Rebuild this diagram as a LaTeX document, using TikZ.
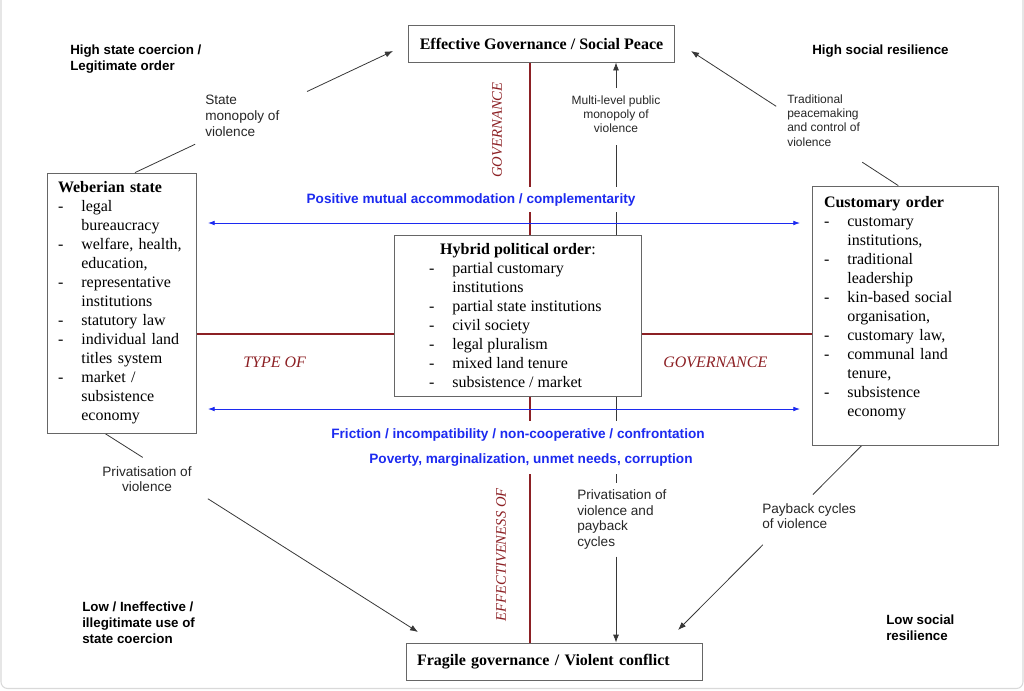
\documentclass[tikz,border=0pt]{standalone}
\usepackage{fontspec}
\setmainfont{Liberation Serif}
\setsansfont{Liberation Sans}
\usetikzlibrary{arrows.meta,calc}
\definecolor{dred}{RGB}{140,32,36}
\definecolor{bblue}{RGB}{28,42,240}
\definecolor{cgrey}{RGB}{55,55,55}
\newcommand\bl{\makebox[17.5pt][l]{-}}
\newcommand\ct{\hspace*{17.5pt}}
\pgfdeclarelayer{background}
\pgfsetlayers{background,main}
\begin{document}
\begin{tikzpicture}[x=0.75pt,y=-0.75pt,
  box/.style={draw=black!60, line width=0.6pt, fill=white, font=\fontsize{12}{14.25}\selectfont},
  lbl/.style={font=\sffamily\fontsize{10.2}{12}\selectfont, inner sep=0pt, text=black!85},
  lbls/.style={font=\sffamily\fontsize{9}{10.7}\selectfont, inner sep=0pt, text=black!85},
  corner/.style={font=\sffamily\bfseries\fontsize{10}{12}\selectfont, inner sep=0pt, align=left},
  btxt/.style={font=\sffamily\bfseries\fontsize{10.2}{12}\selectfont, text=bblue, fill=white, inner xsep=2pt},
  rtxt/.style={font=\itshape\fontsize{12}{14}\selectfont, text=dred, inner sep=0pt},
  rvtxt/.style={font=\itshape\fontsize{11}{13}\selectfont, text=dred, inner sep=0pt, rotate=90},
  conn/.style={draw=cgrey, line width=0.6pt},
  arr/.style={-{Latex[length=6pt,width=4.5pt]}},
  redl/.style={draw=dred, line width=1.4pt},
  barr/.style={draw=bblue, line width=0.6pt, {Latex[length=5pt,width=3.5pt]}-{Latex[length=5pt,width=3.5pt]}}
]
\useasboundingbox (0,0) rectangle (1024,690);

% boxes
\node[box, font=\bfseries\fontsize{12}{14.25}\selectfont, inner xsep=8.25pt, minimum height=27.75pt] (top) at (541.5,43.5) {Effective Governance / Social Peace};
\node[box, font=\bfseries\fontsize{12}{14.25}\selectfont, text width=205.5pt, align=left, inner xsep=8.25pt, minimum height=27.75pt] (bot) at (554,661.5) {Fragile governance / Violent conflict};

\node[box, text width=95.25pt, align=left, inner xsep=8.25pt, inner ysep=2pt, minimum height=195pt] (weber) at (121.5,303) {\textbf{Weberian state}\\
\bl legal\\
\ct bureaucracy\\
\bl welfare, health,\\
\ct education,\\
\bl representative\\
\ct institutions\\
\bl statutory law\\
\bl individual land\\
\ct titles system\\
\bl market /\\
\ct subsistence\\
\ct economy};

\node[box, text width=121.5pt, align=left, inner xsep=9pt, inner ysep=2pt, minimum height=194.25pt] (cust) at (905,315.5) {\textbf{Customary order}\\
\bl customary\\
\ct institutions,\\
\bl traditional\\
\ct leadership\\
\bl kin-based social\\
\ct organisation,\\
\bl customary law,\\
\bl communal land\\
\ct tenure,\\
\bl subsistence\\
\ct economy\\
\mbox{}};

\node[box, align=left, inner sep=2pt, minimum width=185.25pt, minimum height=120.75pt] (hyb) at (518,315.5) {\makebox[133.5pt][c]{\textbf{Hybrid political order}:}\\
\bl partial customary\\
\ct institutions\\
\bl partial state institutions\\
\bl civil society\\
\bl legal pluralism\\
\bl mixed land tenure\\
\bl subsistence / market};

% corner labels
\node[corner, anchor=west] (hl) at (70,59) {High state coercion /\\Legitimate order};
\node[corner, anchor=west] (hr) at (812,51) {High social resilience};
\node[corner, anchor=west] (ll) at (82,623) {Low / Ineffective /\\illegitimate use of\\state coercion};
\node[corner, anchor=west] (lr) at (886,627.5) {Low social\\resilience};

% connector labels
\node[lbl, align=left, anchor=west] (lblA) at (205,116) {State\\monopoly of\\violence};
\node[lbls, align=left, anchor=west] (lblB) at (787,120.5) {Traditional\\peacemaking\\and control of\\violence};
\node[lbl, align=center, font=\sffamily\fontsize{10.2}{11.25}\selectfont] (lblC) at (147,479.5) {Privatisation of\\violence};
\node[lbl, align=left, anchor=west, font=\sffamily\fontsize{10.2}{11.25}\selectfont] (lblD) at (762,516.5) {Payback cycles\\of violence};
\node[lbls, align=center] (lblM) at (616,114) {Multi-level public\\monopoly of\\violence};
\node[lbl, align=left, anchor=west, font=\sffamily\fontsize{10.2}{11.8}\selectfont] (lblP) at (577,519.5) {Privatisation of\\violence and\\payback\\cycles};

% red axis labels
\node[rtxt, anchor=west] (typeof) at (243,362) {TYPE OF};
\node[rtxt, anchor=west] (govh) at (663,362) {GOVERNANCE};
\node[rvtxt] (govv) at (497,130) {GOVERNANCE};
\node[rvtxt] (eff) at (501,555) {EFFECTIVENESS OF};

% blue labels
\node[btxt, inner ysep=4.5pt] (pos) at (471,199.5) {Positive mutual accommodation / complementarity};
\node[btxt, inner ysep=5.5pt] (fric) at (518,435) {Friction / incompatibility / non-cooperative / confrontation};
\node[btxt, inner ysep=5.5pt] (pov) at (531,460) {Poverty, marginalization, unmet needs, corruption};

% coordinates
\coordinate (hc) at (530,334);
\coordinate (gx) at (616,0);
\coordinate (ws) at ($(weber.north west)!0.59!(weber.north east)$);
\coordinate (tA) at (393,51);
\coordinate (cs) at ($(cust.north west)!0.464!(cust.north east)$);
\coordinate (tB) at (691,51);
\coordinate (wb) at ($(weber.south west)!0.389!(weber.south east)$);
\coordinate (tC) at (418,632);
\coordinate (cb) at ($(cust.south west)!0.269!(cust.south east)$);
\coordinate (tD) at (678,630);
\coordinate (bl1) at (208,223);
\coordinate (br1) at (800,223);
\coordinate (bl2) at (208,409);
\coordinate (br2) at (800,409);

\begin{pgfonlayer}{background}
  % frame
  \draw[black!15, line width=0.8pt, rounded corners=5pt] (1,-20) -- (1,688.5) -- (1023,688.5) -- (1023,-20);
  % red axes
  \draw[redl] (top.south -| hc) -- (bot.north -| hc);
  \draw[redl] (weber.east |- hc) -- (cust.west |- hc);
  % grey verticals
  \draw[conn] (hyb.north -| gx) -- ($(lblM.south -| gx)+(0,12)$);
  \draw[conn,arr] ($(lblM.north -| gx)+(0,-7)$) -- (top.south -| gx);
  \draw[conn] (hyb.south -| gx) -- ($(lblP.north -| gx)+(0,-6)$);
  \draw[conn,arr] ($(lblP.south -| gx)+(0,7)$) -- (bot.north -| gx);
  % diagonals
  \draw[conn] (ws) -- ($(ws)!0.233!(tA)$);
  \draw[conn,arr] ($(ws)!0.667!(tA)$) -- (tA);
  \draw[conn] (cs) -- ($(cs)!0.174!(tB)$);
  \draw[conn,arr] ($(cs)!0.589!(tB)$) -- (tB);
  \draw[conn] (wb) -- ($(wb)!0.121!(tC)$);
  \draw[conn,arr] ($(wb)!0.329!(tC)$) -- (tC);
  \draw[conn] (cb) -- ($(cb)!0.266!(tD)$);
  \draw[conn,arr] ($(cb)!0.538!(tD)$) -- (tD);
  % blue arrows
  \draw[barr] (bl1) -- (br1);
  \draw[barr] (bl2) -- (br2);
\end{pgfonlayer}
\end{tikzpicture}
\end{document}
